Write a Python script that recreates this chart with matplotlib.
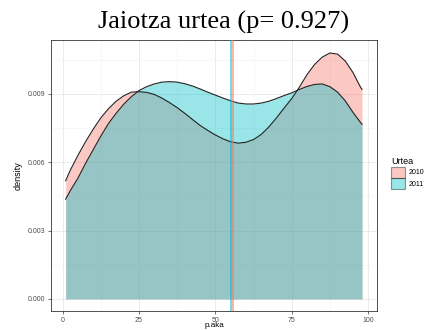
import matplotlib
matplotlib.use("Agg")
import matplotlib.pyplot as plt
from matplotlib.patches import Patch
import numpy as np

# density estimates (x in p.aka units, density in 1e-3)
x_grid = [1, 2.5, 5, 7.5, 10, 12.5, 15, 17.5, 20, 22.5, 25, 27.5, 30, 32.5, 35, 37.5,
          40, 42.5, 45, 47.5, 50, 52.5, 55, 57.5, 60, 62.5, 65, 67.5, 70, 72.5, 75,
          77.5, 80, 82.5, 85, 87.5, 90, 92.5, 95, 97.5, 98]
d_2010 = [5.19, 5.65, 6.3, 6.9, 7.45, 7.95, 8.35, 8.68, 8.92, 9.08, 9.1, 9.07, 8.98, 8.82,
          8.62, 8.4, 8.15, 7.88, 7.62, 7.4, 7.2, 7.03, 6.9, 6.84, 6.88, 7.0, 7.22, 7.55,
          7.95, 8.38, 8.8, 9.3, 9.85, 10.3, 10.62, 10.8, 10.75, 10.45, 9.95, 9.3, 9.2]
d_2011 = [4.38, 4.75, 5.3, 5.95, 6.55, 7.15, 7.7, 8.15, 8.55, 8.88, 9.15, 9.32, 9.44, 9.52,
          9.54, 9.52, 9.45, 9.35, 9.22, 9.08, 8.95, 8.82, 8.7, 8.6, 8.56, 8.56, 8.6, 8.68,
          8.8, 8.93, 9.05, 9.2, 9.33, 9.42, 9.44, 9.32, 9.08, 8.7, 8.2, 7.75, 7.67]
mean_2010 = 55.8
mean_2011 = 55.0

years = ["2010", "2011"]
colors = ["#F8766D", "#00BFC4"]

plt.rcParams["font.family"] = ["Liberation Sans", "DejaVu Sans"]

fig = plt.figure(figsize=(4.28, 3.30), dpi=100)
ax = fig.add_axes([51 / 428, 1 - 311 / 330, 326 / 428, 271 / 330])

for ds, col in zip([d_2010, d_2011], colors):
    ys = np.array(ds) * 1e-3
    ax.fill_between(x_grid, 0, ys, color=col, alpha=0.4, lw=0, zorder=2)
    ax.plot(x_grid, ys, color="#222222", lw=0.8, zorder=3)

ax.axvline(mean_2011, color=colors[1], lw=1.3, alpha=0.6, zorder=4)
ax.axvline(mean_2010, color=colors[0], lw=1.3, alpha=0.6, zorder=4)

ax.set_xlim(-3.8, 102.9)
ax.set_ylim(-0.00053, 0.01137)
ax.set_xticks([0, 25, 50, 75, 100])
ax.set_xticks([12.5, 37.5, 62.5, 87.5], minor=True)
ax.set_yticks([0, 0.003, 0.006, 0.009])
ax.set_yticks([0.0015, 0.0045, 0.0075, 0.0105], minor=True)
ax.set_yticklabels(["0.000", "0.003", "0.006", "0.009"])
ax.grid(which="major", color="#EBEBEB", lw=0.7, zorder=0)
ax.grid(which="minor", color="#F4F4F4", lw=0.5, zorder=0)
ax.set_axisbelow(True)
ax.tick_params(which="major", length=2.5, width=0.5, color="#333333",
               labelsize=5, labelcolor="#4D4D4D", pad=1.5)
ax.tick_params(which="minor", length=0)
for sp in ax.spines.values():
    sp.set_color("#333333")
    sp.set_linewidth(0.6)

ax.set_xlabel("p.aka", fontsize=5.8, labelpad=-1)
ax.set_ylabel("density", fontsize=6.5, labelpad=4)

fig.text(224 / 428, 1 - 22 / 330, "Jaiotza urtea (p= 0.927)", ha="center", va="center",
         fontsize=19, family=["Liberation Serif", "DejaVu Serif"])

handles = [Patch(facecolor=c, alpha=0.4, edgecolor="black", lw=0.8) for c in colors]
leg = fig.legend(handles, years, title="Urtea", loc="upper left",
                 bbox_to_anchor=(388 / 428, 1 - 154 / 330), frameon=False,
                 fontsize=5, title_fontsize=6.5, handlelength=1.9, handleheight=2.1,
                 handletextpad=0.5, labelspacing=0.02, borderpad=0)
leg._legend_box.align = "left"
for h in leg.legend_handles:
    h.set_edgecolor("black")

fig.savefig("out.png", dpi=100)
